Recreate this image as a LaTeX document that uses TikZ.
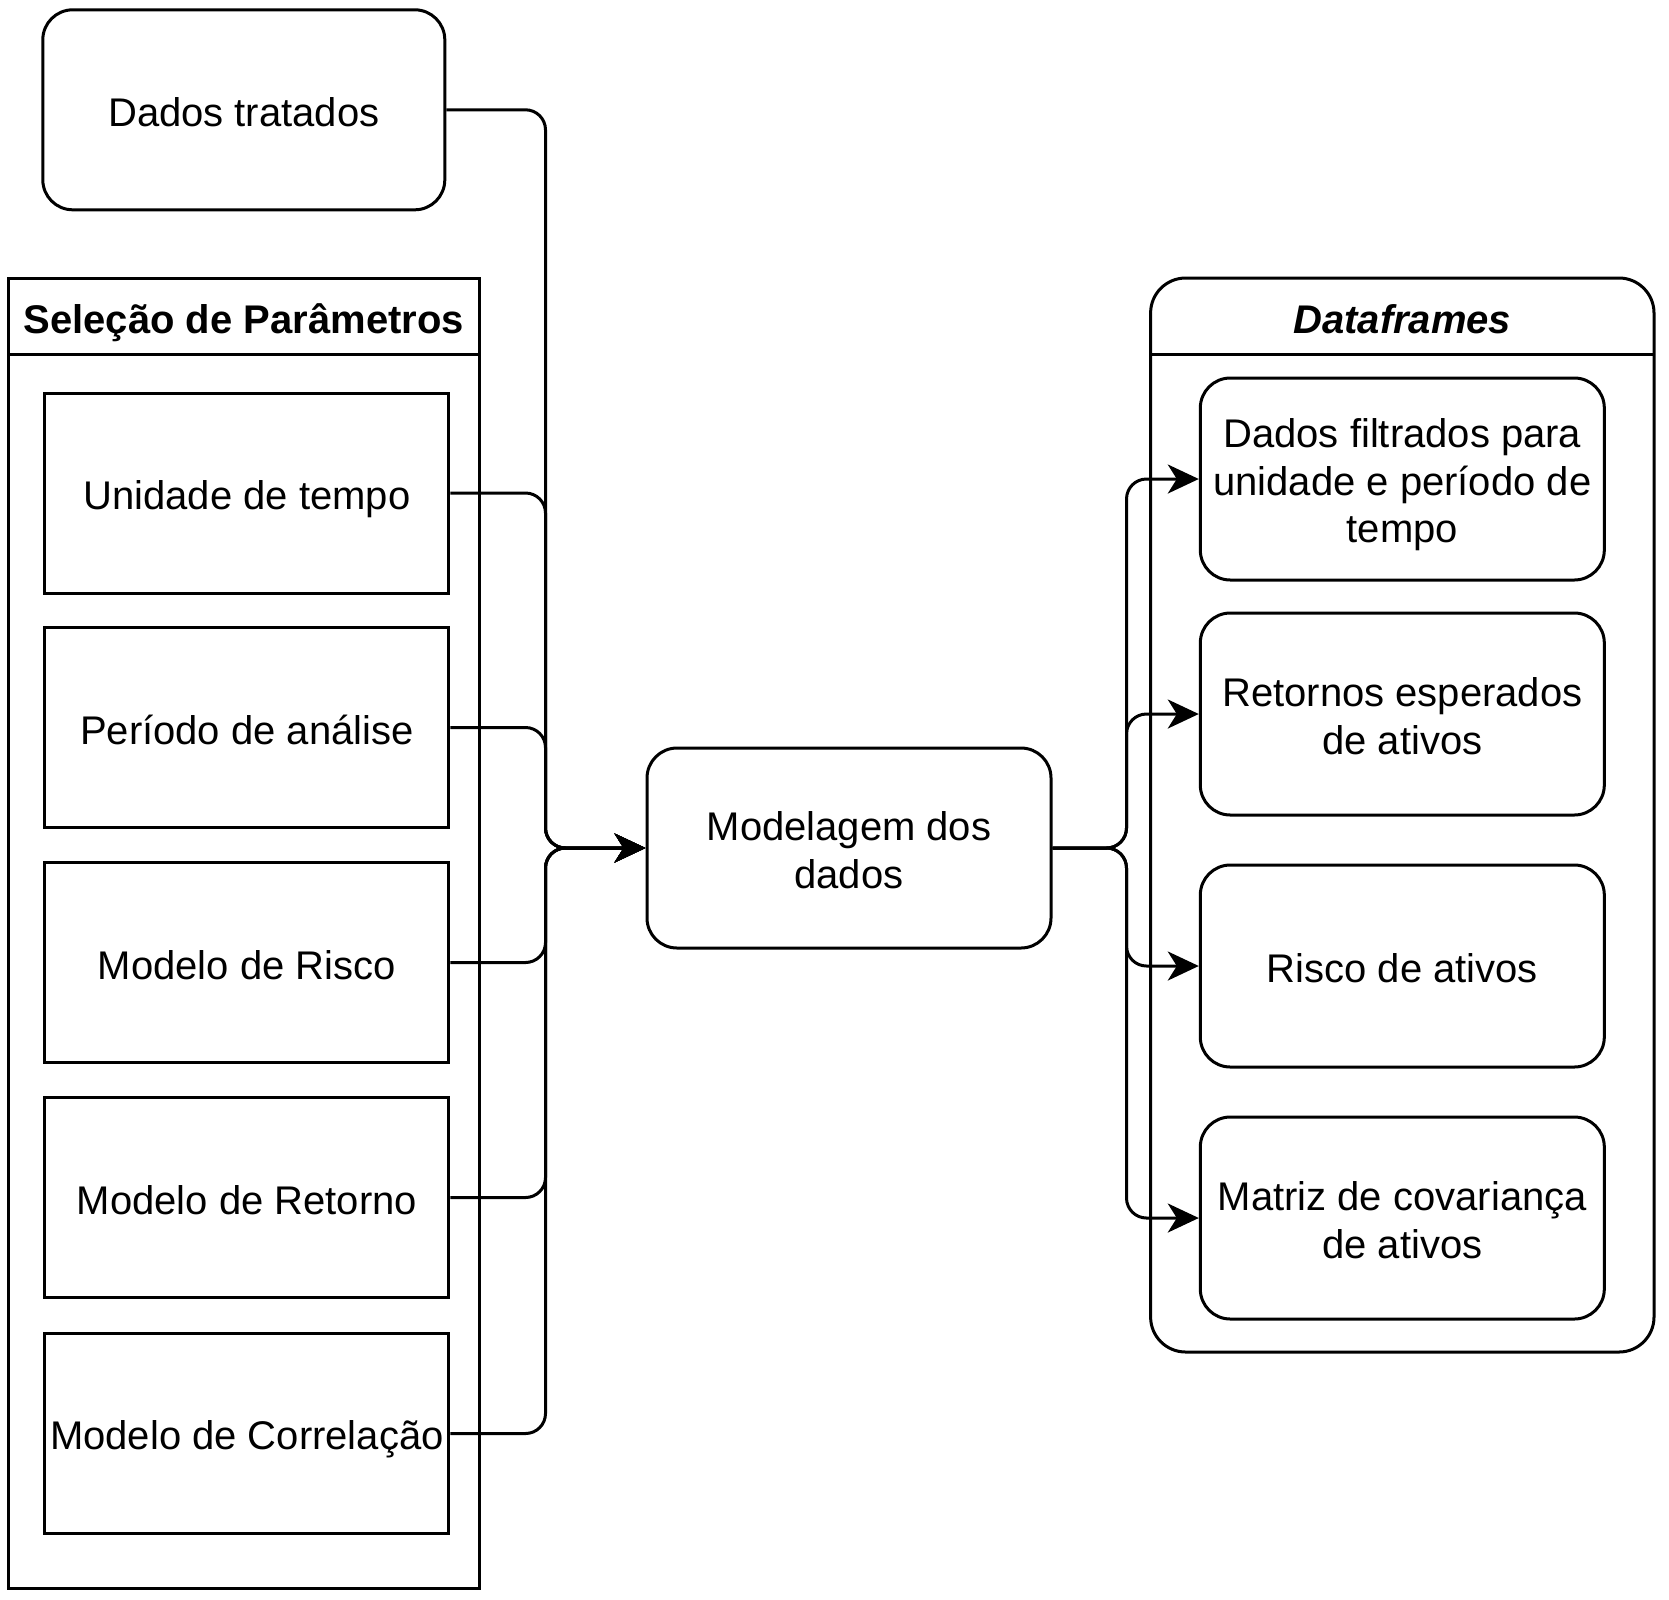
\documentclass[tikz,border=0pt]{standalone}
\usepackage{fontspec}
\setmainfont{Liberation Sans}
\usetikzlibrary{arrows.meta,calc}
\newcommand\lnst{\rule[-7.15pt]{0pt}{47.5pt}}
\newcommand\lnfont{\fontsize{40}{47.5}\selectfont\lineskiplimit=-100pt\relax}
\begin{document}
\begin{tikzpicture}[x=1pt,y=-1pt,
  line width=3pt,
  txt/.style={font=\lnfont, align=center},
  rbox/.style={draw, rounded corners=30pt, minimum width=404pt, minimum height=200pt, inner sep=0pt, txt},
  sbox/.style={draw, minimum width=404pt, minimum height=200pt, inner sep=0pt, txt},
  conn/.style={rounded corners=20pt},
  arr/.style={conn, -{Stealth[length=31pt,width=29pt,inset=9pt]}}
]
\useasboundingbox (0,0) rectangle (1669,1599);
% top box
\node[rbox, minimum width=402pt] (dt) at (243.8,109.8) {\lnst Dados tratados};
% parameter container
\draw (8.5,278) rectangle (479,1588);
\draw (8.5,354.5) -- (479,354.5);
\node[txt, font=\lnfont\bfseries] (selh) at (243.8,317) {\lnst Seleção de Parâmetros};
\node[sbox] (p1) at (246.9,493) {\lnst Unidade de tempo};
\node[sbox] (p2) at (246.9,727.5) {\lnst Período de análise};
\node[sbox] (p3) at (246.9,962.5) {\lnst Modelo de Risco};
\node[sbox] (p4) at (246.9,1197.5) {\lnst Modelo de Retorno};
\node[sbox] (p5) at (246.9,1433.5) {\lnst Modelo de Correlação};
% center
\node[rbox] (mod) at (849,848) {\lnst Modelagem dos\\\lnst dados};
% dataframes container
\draw[rounded corners=35pt] (1150.6,354.5) -- (1150.6,278) -- (1654,278) -- (1654,1352) -- (1150.6,1352) -- cycle;
\draw (1150.6,354.5) -- (1654,354.5);
\node[txt, font=\lnfont\bfseries\itshape] (dfh) at (1402.3,317) {\lnst Dataframes};
\node[rbox, minimum height=202pt] (t1) at (1402.3,479) {\lnst Dados filtrados para\\\lnst unidade e período de\\\lnst tempo};
\node[rbox, minimum height=202pt] (t2) at (1402.3,714) {\lnst Retornos esperados\\\lnst de ativos};
\node[rbox, minimum height=202pt] (t3) at (1402.3,966) {\lnst Risco de ativos};
\node[rbox, minimum height=202pt] (t4) at (1402.3,1218) {\lnst Matriz de covariança\\\lnst de ativos};
% connectors left
\coordinate (busL) at ($(mod.west)+(-100,0)$);
\foreach \n in {dt,p1,p2,p3,p4,p5}{
  \draw[arr] (\n.east) -| (busL) -- (mod.west);
}
% connectors right
\foreach \n in {t1,t2,t3,t4}{
  \draw[arr] (mod.east) -- ++(74,0) |- (\n.west);
}
\end{tikzpicture}
\end{document}
